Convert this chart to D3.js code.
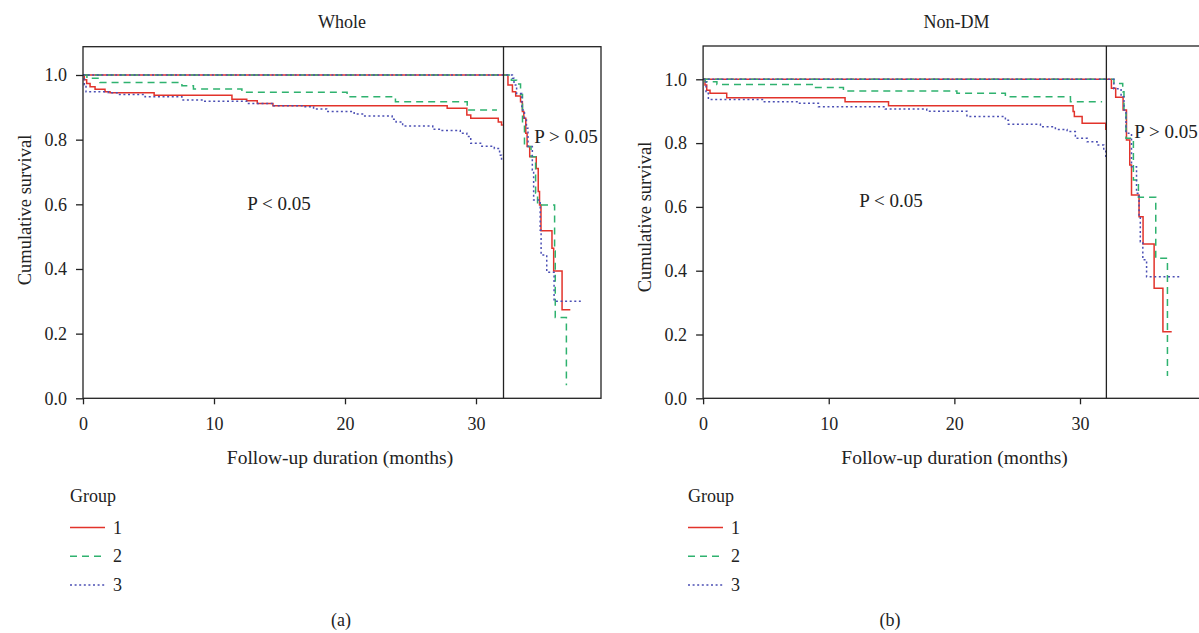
<!DOCTYPE html>
<html>
<head>
<meta charset="utf-8">
<script src="https://cdn.jsdelivr.net/npm/d3@7"></script>
<style>
  body { margin: 0; background: #fff; }
  svg text { font-family: "Liberation Serif", "DejaVu Serif", serif; fill: #222; }
</style>
</head>
<body>
<div class="container"></div>
<script>
// Kaplan-Meier steps: [month, cumulative survival]
var wholeG1Early = [[0,1],[0.1,0.985],[0.28,0.974],[0.54,0.964],[0.92,0.956],[1.68,0.948],[2.06,0.945],[5.43,0.937],[11.37,0.925],[12.5,0.92],[13.3,0.912],[14.5,0.905],[27.8,0.897],[29.3,0.876],[29.6,0.866],[31.7,0.855],[31.95,0.845],[32.05,0.845]];
var wholeG2Early = [[0,1],[0.3,0.99],[1.3,0.977],[7.55,0.967],[8.43,0.957],[12.13,0.947],[20.16,0.933],[23.85,0.917],[29.33,0.892],[31.6,0.892]];
var wholeG3Early = [[0,1],[0.1,0.97],[0.23,0.948],[1.94,0.945],[2.6,0.94],[4.74,0.933],[7.55,0.923],[9.2,0.919],[12.5,0.912],[14.55,0.905],[16.85,0.902],[17.6,0.895],[18.6,0.887],[20.7,0.879],[21.4,0.873],[23.6,0.863],[23.9,0.855],[24.4,0.842],[26.7,0.832],[27.3,0.828],[28.8,0.82],[29.3,0.81],[29.6,0.789],[30.35,0.78],[31.4,0.773],[31.8,0.752],[31.95,0.737],[32.05,0.737]];
var wholeG1Late = [[0,1],[32.44,0.969],[32.78,0.948],[33.03,0.935],[33.4,0.917],[33.54,0.887],[33.65,0.866],[33.8,0.82],[33.9,0.779],[34.1,0.747],[34.6,0.711],[34.75,0.64],[34.85,0.598],[34.96,0.518],[35.8,0.464],[35.93,0.394],[36.57,0.274],[37.2,0.274]];
var wholeG2Late = [[0,1],[32.7,0.984],[33.1,0.972],[33.4,0.94],[33.55,0.85],[33.7,0.779],[34.2,0.747],[34.55,0.634],[34.7,0.598],[36.0,0.456],[36.05,0.25],[36.9,0.04]];
var wholeG3Late = [[0,1],[32.78,0.99],[32.9,0.969],[33.1,0.943],[33.5,0.892],[33.7,0.866],[33.85,0.835],[33.97,0.779],[34.3,0.706],[34.4,0.613],[34.9,0.52],[34.97,0.443],[35.4,0.39],[35.96,0.3],[38.0,0.3]];

var nonDmG1Early = [[0,1],[0.15,0.982],[0.29,0.966],[0.55,0.956],[1.88,0.942],[11.3,0.93],[14.76,0.917],[29.45,0.899],[29.55,0.883],[30.17,0.862],[32.05,0.841]];
var nonDmG2Early = [[0,1],[0.15,0.9925],[1.1,0.984],[8.78,0.974],[11.17,0.963],[20.2,0.956],[24.06,0.945],[29.24,0.93],[31.76,0.93]];
var nonDmG3Early = [[0,1],[0.23,0.956],[0.42,0.937],[4.8,0.93],[7.59,0.925],[9.18,0.914],[14.5,0.907],[17.8,0.9],[21.0,0.883],[24.06,0.872],[24.3,0.859],[26.85,0.851],[28.04,0.843],[28.97,0.836],[29.63,0.815],[30.57,0.804],[31.36,0.794],[31.89,0.778],[32.05,0.752]];
var nonDmG1Late = [[0,1],[32.5,0.972],[32.84,0.944],[33.43,0.904],[33.7,0.81],[33.96,0.731],[34.1,0.637],[34.7,0.569],[35.02,0.484],[35.9,0.345],[36.6,0.209],[37.3,0.209]];
var nonDmG2Late = [[0,1],[32.7,0.987],[33.4,0.961],[33.5,0.904],[33.66,0.815],[34.25,0.684],[34.65,0.63],[36.03,0.439],[36.96,0.07]];
var nonDmG3Late = [[0,1],[32.7,0.97],[33.27,0.945],[33.5,0.904],[33.66,0.831],[34.1,0.726],[34.5,0.643],[34.7,0.569],[34.8,0.491],[35.0,0.434],[35.3,0.381],[38.1,0.381]];

var groups = ["1", "2", "3"];
var xTicks = [0, 10, 20, 30];
var yTicks = [0, 0.2, 0.4, 0.6, 0.8, 1.0];
var cutMonth = 32.1;   // vertical split line
var pLeft = "P < 0.05";
var pRight = "P > 0.05";

var colors = {"1": "#e2332b", "2": "#2fb26f", "3": "#4b4fb4"};
var dashes = {"1": null, "2": "7,5", "3": "2,2.6"};

var svg = d3.select(".container")
  .append("svg")
    .attr("width", 1199)
    .attr("height", 633);

var panels = [
  {title: "Whole", tag: "(a)", left: 83, right: 601, top: 46.7, bottom: 398.3, y1: 75, x30: 476,
   ylab: 31, ylabY: 210, pL: [279, 210], pR: [566, 143], legX: 70, tagX: 341,
   series: [wholeG1Early, wholeG2Early, wholeG3Early, wholeG1Late, wholeG2Late, wholeG3Late]},
  {title: "Non-DM", tag: "(b)", left: 703.1, right: 1210, top: 46, bottom: 398.3, y1: 79.3, x30: 1080,
   ylab: 651, ylabY: 217, pL: [891, 207], pR: [1166, 138], legX: 688, tagX: 890,
   series: [nonDmG1Early, nonDmG2Early, nonDmG3Early, nonDmG1Late, nonDmG2Late, nonDmG3Late]}
];

panels.forEach(function(p) {
  var x = d3.scaleLinear().domain([0, 30]).range([p.left, p.x30]);
  var y = d3.scaleLinear().domain([0, 1]).range([p.bottom, p.y1]);
  var g = svg.append("g");

  // title
  g.append("text")
    .attr("x", (p.left + p.right) / 2).attr("y", 28)
    .attr("text-anchor", "middle").style("font-size", "18px")
    .text(p.title);

  // curves
  var line = d3.line()
    .x(function(d){ return x(d[0]) })
    .y(function(d){ return y(d[1]) })
    .curve(d3.curveStepAfter);

  p.series.forEach(function(s, i) {
    var grp = groups[i % 3];
    g.append("path")
      .datum(s)
      .attr("d", line)
      .attr("fill", "none")
      .attr("stroke", colors[grp])
      .attr("stroke-width", 1.5)
      .attr("stroke-dasharray", dashes[grp]);
  });

  // frame + split line
  g.append("rect")
    .attr("x", p.left).attr("y", p.top)
    .attr("width", p.right - p.left).attr("height", p.bottom - p.top)
    .attr("fill", "none").attr("stroke", "#222").attr("stroke-width", 1.3);
  g.append("line")
    .attr("x1", x(cutMonth)).attr("x2", x(cutMonth))
    .attr("y1", p.top).attr("y2", p.bottom)
    .attr("stroke", "#222").attr("stroke-width", 1.3);

  // axes
  var yAxis = g.append("g")
    .attr("transform", "translate(" + p.left + ",0)")
    .call(d3.axisLeft(y).tickValues(yTicks).tickFormat(d3.format(".1f")).tickSize(7).tickSizeOuter(0).tickPadding(9));
  var xAxis = g.append("g")
    .attr("transform", "translate(0," + p.bottom + ")")
    .call(d3.axisBottom(x).tickValues(xTicks).tickSize(6).tickSizeOuter(0).tickPadding(13));
  [xAxis, yAxis].forEach(function(a) {
    a.select(".domain").remove();
    a.selectAll("line").attr("stroke", "#222").attr("stroke-width", 1.3);
    a.selectAll("text").style("font-size", "18px").style("font-family", "Liberation Serif").attr("fill", "#222");
  });

  // axis titles
  g.append("text")
    .attr("x", (p.left + p.right) / 2 - 2).attr("y", 464)
    .attr("text-anchor", "middle").style("font-size", "19.5px")
    .text("Follow-up duration (months)");
  g.append("text")
    .attr("transform", "translate(" + p.ylab + "," + p.ylabY + ") rotate(-90)")
    .attr("text-anchor", "middle").style("font-size", "18.5px")
    .text("Cumulative survival");

  // p values
  g.append("text").attr("x", p.pL[0]).attr("y", p.pL[1])
    .attr("text-anchor", "middle").style("font-size", "19px").text(pLeft);
  g.append("text").attr("x", p.pR[0]).attr("y", p.pR[1])
    .attr("text-anchor", "middle").style("font-size", "19px").text(pRight);

  // legend
  g.append("text").attr("x", p.legX).attr("y", 502)
    .style("font-size", "18px").text("Group");
  groups.forEach(function(k, i) {
    var ly = 527.5 + i * 28.7;
    g.append("line")
      .attr("x1", p.legX).attr("x2", p.legX + 35)
      .attr("y1", ly).attr("y2", ly)
      .attr("stroke", colors[k]).attr("stroke-width", 1.5)
      .attr("stroke-dasharray", dashes[k]);
    g.append("text").attr("x", p.legX + 43).attr("y", ly + 6)
      .style("font-size", "18px").text(k);
  });

  g.append("text").attr("x", p.tagX).attr("y", 626)
    .attr("text-anchor", "middle").style("font-size", "18px").text(p.tag);
});
</script>
</body>
</html>
